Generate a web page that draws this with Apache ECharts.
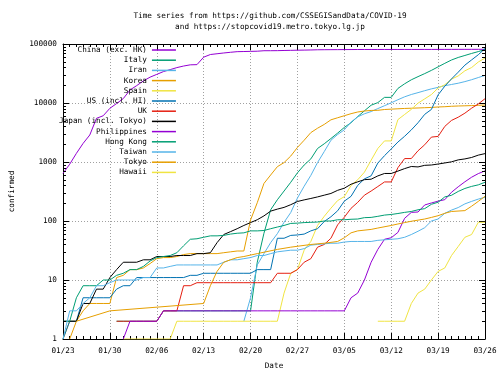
<!DOCTYPE html>
<html><head><meta charset="utf-8">
<script src="https://cdn.jsdelivr.net/npm/echarts@6/dist/echarts.min.js"></script>
<style>html,body{margin:0;padding:0;background:#fff}#c{width:500px;height:375px}</style>
</head><body><div id="c"></div>
<script>
// ---- dates (x categories) ----
const dates = [
 '01/23','01/24','01/25','01/26','01/27','01/28','01/29','01/30','01/31',
 '02/01','02/02','02/03','02/04','02/05','02/06','02/07','02/08','02/09','02/10',
 '02/11','02/12','02/13','02/14','02/15','02/16','02/17','02/18','02/19','02/20',
 '02/21','02/22','02/23','02/24','02/25','02/26','02/27','02/28','02/29',
 '03/01','03/02','03/03','03/04','03/05','03/06','03/07','03/08','03/09','03/10',
 '03/11','03/12','03/13','03/14','03/15','03/16','03/17','03/18','03/19','03/20',
 '03/21','03/22','03/23','03/24','03/25','03/26'];
const xTickLabels = ['01/23','01/30','02/06','02/13','02/20','02/27','03/05','03/12','03/19','03/26'];
const yTickLabels = ['1','10','100','1000','10000','100000'];

// ---- series values (daily, first value at the given start date) ----
const chinaStart = '01/23';
const china = [641,918,1401,2067,2869,5501,6077,8131,9790,
 11878,16615,19701,23690,27419,30563,34085,36788,39800,42316,44337,44709,59842,66302,68357,70456,72374,74149,74556,75009,75482,76932,76948,77162,77670,78075,78508,78834,79261,
 79836,80036,80161,80281,80432,80583,80662,80709,80745,80767,80795,80803,80811,80837,80858,80878,80896,80910,80948,80994,81032,81118,81142,81205,81251,81329];
const italyStart = '01/31';
const italy = [2,2,2,2,2,2,2,3,3,3,3,3,3,3,3,3,3,3,3,3,3,
 20,62,155,229,322,453,655,888,1128,
 1694,2036,2502,3089,3858,4636,5883,7375,9172,10149,12462,12462,17660,21157,24747,27980,31506,35713,41035,47021,53578,59138,63927,69176,74386,80589];
const iranStart = '02/19';
const iran = [2,5,18,28,43,61,95,139,245,388,593,
 978,1501,2336,2922,3513,4747,5823,6566,7161,8042,9000,10075,11364,12729,13938,14991,16169,17361,18407,19644,20610,21638,23049,24811,27017,29406];
const koreaStart = '01/23';
const korea = [1,2,2,3,4,4,4,4,11,
 12,15,15,16,19,23,24,24,25,27,28,28,28,28,28,29,30,31,31,104,204,433,602,833,977,1261,1766,2337,3150,
 3736,4335,5186,5621,6088,6593,7041,7314,7478,7513,7755,7869,7979,8086,8162,8236,8320,8413,8565,8652,8799,8897,8961,9037,9137,9241];
const spainStart = '02/01';
const spain = [1,1,1,1,1,1,1,1,2,2,2,2,2,2,2,2,2,2,2,2,2,2,2,2,6,13,15,32,45,
 84,120,165,222,259,400,500,673,1073,1695,2277,2277,5232,6391,7798,9942,11748,13910,17963,20410,25374,28768,35136,39885,49515,57786];
const usStart = '01/23';
const us = [1,2,2,5,5,5,5,5,7,
 8,8,11,11,11,11,11,11,11,11,12,12,13,13,13,13,13,13,13,13,15,15,15,51,51,57,58,60,68,
 74,98,118,149,217,262,402,518,583,959,1281,1663,2179,2727,3499,4632,6421,7783,13747,19273,25600,33276,43847,53740,65778,83836];
const ukStart = '01/31';
const uk = [2,2,2,2,2,2,2,3,3,3,8,8,9,9,9,9,9,9,9,9,9,9,9,9,13,13,13,15,20,23,
 36,40,51,86,116,164,207,274,322,384,459,459,801,1143,1144,1551,1960,2642,2716,4014,5067,5745,6726,8164,9640,11812];
const japanStart = '01/23';
const japan = [2,2,2,4,4,7,7,11,15,
 20,20,20,22,22,25,25,25,26,26,26,28,28,29,43,59,66,74,84,94,105,122,147,159,170,189,214,228,241,
 256,274,293,331,360,420,461,502,511,581,639,639,701,773,839,825,878,889,924,963,1007,1086,1128,1193,1307,1387];
const philippinesStart = '02/01';
const philippines = [1,2,2,2,2,2,
 3,3,3,3,3,3,3,3,3,3,3,3,3,3,3,3,3,3,3,3,3,3,3,3,3,3,3,3,
 5,6,10,20,33,49,52,64,111,140,142,187,202,217,230,307,380,462,552,636,707];
const hongkongStart = '01/23';
const hongkong = [2,2,5,8,8,8,10,10,12,
 13,15,15,17,21,24,25,26,29,38,49,50,53,56,56,57,60,62,63,68,68,69,74,79,84,91,92,94,95,
 96,100,100,105,105,107,108,114,115,120,126,129,134,140,145,155,162,192,208,256,273,317,356,386,410,453];
const taiwanStart = '01/23';
const taiwan = [1,3,3,4,5,8,8,9,10,
 10,10,10,11,11,16,16,17,18,18,18,18,18,18,18,20,22,22,23,24,26,26,28,30,31,32,32,34,39,
 40,41,42,42,44,45,45,45,45,47,48,49,50,53,59,67,77,100,108,135,153,169,195,215,235,252];
// Tokyo and Hawaii: reported dates only
const tokyoDates = ['01/24','01/25','01/30','02/13','02/14','02/15','02/16','02/17','02/18','02/19','02/21','02/24','02/26','02/29',
 '03/02','03/04','03/05','03/06','03/07','03/09','03/10','03/12','03/13','03/14','03/15','03/17','03/18','03/19','03/20','03/21','03/23','03/24','03/25','03/26'];
const tokyo = [1,2,3,4,8,14,20,22,24,25,28,33,36,40,
 42,45,52,63,68,72,76,84,89,94,99,108,115,123,135,145,150,178,215,262];
const hawaiiDates = ['03/10','03/11','03/12','03/13','03/14','03/15','03/16','03/17','03/18','03/19','03/20','03/21','03/22','03/23','03/24','03/25','03/26'];
const hawaii = [2,2,2,2,2,4,6,7,10,14,16,26,37,53,59,95,95];

const names = ['China (exc. HK)','Italy','Iran','Korea','Spain','US (incl. HI)','UK','Japan (incl. Tokyo)','Philippines','Hong Kong','Taiwan','Tokyo','Hawaii'];
const colors = ['#9400d3','#009e73','#56b4e9','#e69f00','#f0e442','#0072b2','#e51e10','#000000','#9400d3','#009e73','#56b4e9','#e69f00','#f0e442'];

function daily(start, vals){ const s = dates.indexOf(start); return vals.map((v,i)=>[s+i, v]); }
function sparse(ds, vals){ return ds.map((d,i)=>[dates.indexOf(d), vals[i]]); }
const seriesData = [
  daily(chinaStart, china), daily(italyStart, italy), daily(iranStart, iran), daily(koreaStart, korea),
  daily(spainStart, spain), daily(usStart, us), daily(ukStart, uk), daily(japanStart, japan),
  daily(philippinesStart, philippines), daily(hongkongStart, hongkong), daily(taiwanStart, taiwan),
  sparse(tokyoDates, tokyo), sparse(hawaiiDates, hawaii)];

// log minor tick positions (2..9 x 10^k)
const yMinor = [];
for (let k = 0; k < 5; k++) for (let m = 2; m <= 9; m++) yMinor.push([0, m * Math.pow(10, k)]);

const FONT = 'DejaVu Sans Mono';
const FS = 7.7;
const chart = echarts.init(document.getElementById('c'), null, {renderer: 'canvas'});
const series = names.map((n, i) => ({
  name: n, type: 'line', data: seriesData[i], symbol: 'none', showSymbol: false,
  lineStyle: {width: 1, color: colors[i]}, itemStyle: {color: colors[i]},
  animation: false, silent: true, z: 3
}));
series.push({
  type: 'custom', data: yMinor, silent: true, z: 4, clip: false, animation: false,
  renderItem: function (params, api) {
    const p = api.coord([0, api.value(1)]);
    const cs = params.coordSys;
    const y = Math.round(p[1]) + 0.5;
    return {type: 'group', children: [
      {type: 'line', shape: {x1: cs.x, y1: y, x2: cs.x + 3, y2: y}, style: {stroke: '#000', lineWidth: 1}},
      {type: 'line', shape: {x1: cs.x + cs.width - 3, y1: y, x2: cs.x + cs.width, y2: y}, style: {stroke: '#000', lineWidth: 1}}
    ]};
  }
});

const axisText = {fontFamily: FONT, fontSize: FS, color: '#000'};
chart.setOption({
  animation: false,
  backgroundColor: '#fff',
  title: {
    text: 'Time series from https://github.com/CSSEGISandData/COVID-19\nand https://stopcovid19.metro.tokyo.lg.jp',
    left: 270, top: 11, padding: 0, textAlign: 'center',
    textStyle: {fontFamily: FONT, fontSize: FS, fontWeight: 'normal', color: '#000', lineHeight: 10.5}
  },
  legend: {
    data: names.map(n => ({name: n, icon: 'rect'})), orient: 'vertical', align: 'right', left: 59, top: 46, padding: 0,
    itemWidth: 24, itemHeight: 1.5, itemGap: 2.2,
    textStyle: {fontFamily: FONT, fontSize: FS, color: '#000', lineHeight: 8},
    selectedMode: false
  },
  grid: {left: 55, right: 15, top: 44, bottom: 32, containLabel: false},
  xAxis: [{
    type: 'value', min: 0, max: 63, interval: 7,
    name: 'Date', nameLocation: 'middle', nameGap: 23, nameTextStyle: axisText,
    axisLine: {show: true, onZero: false, lineStyle: {color: '#000', width: 1}},
    axisTick: {show: true, inside: true, length: 6, lineStyle: {color: '#000'}},
    minorTick: {show: true, splitNumber: 7, length: 3, lineStyle: {color: '#000'}},
    axisLabel: {...axisText, margin: 8, formatter: v => xTickLabels[xTickLabels.indexOf(dates[v])] || ''},
    splitLine: {show: true, lineStyle: {color: '#a0a0a0', type: [1, 2], width: 1}}
  }, {
    type: 'value', min: 0, max: 63, interval: 7, position: 'top',
    axisLine: {show: true, onZero: false, lineStyle: {color: '#000', width: 1}},
    axisTick: {show: true, inside: true, length: 6, lineStyle: {color: '#000'}},
    minorTick: {show: true, splitNumber: 7, length: 3, lineStyle: {color: '#000'}},
    axisLabel: {show: false}, splitLine: {show: false}
  }],
  yAxis: [{
    type: 'log', logBase: 10, min: 1, max: 100000,
    name: 'confirmed', nameLocation: 'middle', nameGap: 47, nameRotate: 90, nameTextStyle: axisText,
    axisLine: {show: true, onZero: false, lineStyle: {color: '#000', width: 1}},
    axisTick: {show: true, inside: true, length: 6, lineStyle: {color: '#000'}},
    axisLabel: {...axisText, margin: 6, formatter: v => yTickLabels[Math.round(Math.log10(v))]},
    splitLine: {show: true, lineStyle: {color: '#a0a0a0', type: [1, 2], width: 1}}
  }, {
    type: 'log', logBase: 10, min: 1, max: 100000, position: 'right',
    axisLine: {show: true, onZero: false, lineStyle: {color: '#000', width: 1}},
    axisTick: {show: true, inside: true, length: 6, lineStyle: {color: '#000'}},
    axisLabel: {show: false}, splitLine: {show: false}
  }],
  series: series
});
</script></body></html>
